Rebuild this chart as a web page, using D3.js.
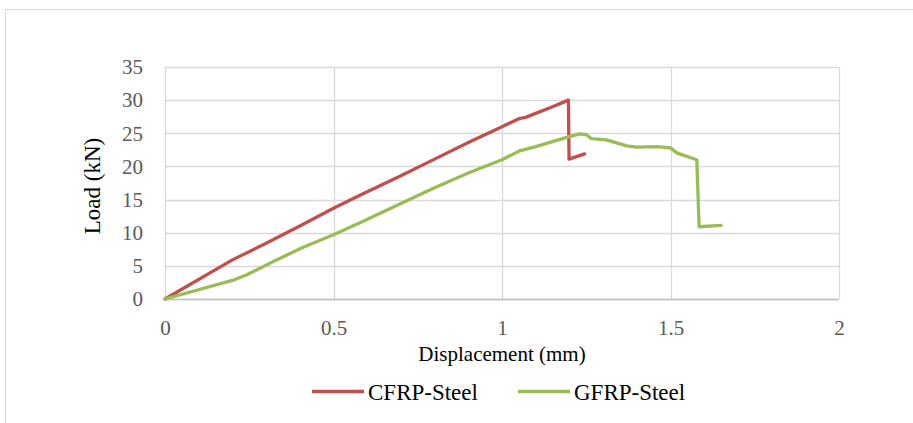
<!DOCTYPE html>
<html>
<head>
<meta charset="UTF-8">
<title>Load vs Displacement</title>
<style>
  body { margin: 0; background: #fff; }
  text { font-family: "Liberation Serif", "Times New Roman", serif; }
</style>
</head>
<body>
<script src="https://d3js.org/d3.v7.min.js"></script>
<svg></svg>
<script>
// displacement (mm) / load (kN)
let cfrpX = [0, 0.2, 0.3, 0.4, 0.5, 0.58, 0.7, 0.8, 0.9, 1.0, 1.05, 1.07, 1.1, 1.15, 1.197, 1.199, 1.245];
let cfrpY = [0, 5.9, 8.4, 11.0, 13.7, 15.7, 18.6, 21.1, 23.6, 26.0, 27.2, 27.4, 28.0, 29.0, 30.0, 21.1, 21.9];

let gfrpX = [0, 0.2, 0.243, 0.282, 0.331, 0.41, 0.5, 0.58, 0.7, 0.8, 0.9, 1.0, 1.05, 1.1, 1.2, 1.23, 1.25, 1.265, 1.31, 1.37, 1.4, 1.46, 1.5, 1.52, 1.578, 1.585, 1.65];
let gfrpY = [0, 2.8, 3.65, 4.65, 5.9, 7.8, 9.7, 11.55, 14.4, 16.8, 19.0, 21.0, 22.3, 23.0, 24.5, 24.9, 24.8, 24.2, 24.0, 23.1, 22.9, 23.0, 22.8, 22.0, 21.0, 10.9, 11.1];

let xTicks = [0, 0.5, 1, 1.5, 2];
let yTicks = [0, 5, 10, 15, 20, 25, 30, 35];

let seriesNames = ["CFRP-Steel", "GFRP-Steel"];
let seriesColors = ["#c0504d", "#9bbb59"];

let series = [
    {name: seriesNames[0], color: seriesColors[0], pts: cfrpX.map((x, i) => [x, cfrpY[i]])},
    {name: seriesNames[1], color: seriesColors[1], pts: gfrpX.map((x, i) => [x, gfrpY[i]])}
];

let W = 913, H = 423;
let margin = {top: 67, left: 165},
    width = 839 - margin.left,
    height = 299 - margin.top;

let svg = d3.select("svg").attr("width", W).attr("height", H);

// outer chart frame
svg.append("rect")
    .attr("x", 5.5).attr("y", 9.5)
    .attr("width", 940).attr("height", 440)
    .attr("fill", "none")
    .attr("stroke", "#d9d9d9")
    .attr("stroke-width", 1);

let chart = svg.append("g")
    .attr("transform", "translate(" + margin.left + "," + margin.top + ")");

let xScale = d3.scaleLinear().domain([0, 2]).range([0, width]);
let yScale = d3.scaleLinear().domain([0, 35]).range([height, 0]);

// gridlines
chart.selectAll(".hgrid")
    .data(yTicks)
    .enter()
    .append("line")
    .attr("x1", 0).attr("x2", width)
    .attr("y1", d => Math.round(yScale(d)) + 0.5)
    .attr("y2", d => Math.round(yScale(d)) + 0.5)
    .attr("stroke", "#d9d9d9")
    .attr("stroke-width", 1.3);

chart.selectAll(".vgrid")
    .data(xTicks)
    .enter()
    .append("line")
    .attr("y1", 0).attr("y2", height)
    .attr("x1", d => Math.round(xScale(d)) + 0.5)
    .attr("x2", d => Math.round(xScale(d)) + 0.5)
    .attr("stroke", "#d9d9d9")
    .attr("stroke-width", 1.3);

// bottom axis line
chart.append("line")
    .attr("x1", 0).attr("x2", width)
    .attr("y1", height + 0.5).attr("y2", height + 0.5)
    .attr("stroke", "#bfbfbf")
    .attr("stroke-width", 1.5);

// tick labels via d3 axes, domain + ticks hidden
let xAxis = chart.append("g")
    .attr("transform", "translate(0," + height + ")")
    .call(d3.axisBottom(xScale).tickValues(xTicks).tickFormat(d3.format("")).tickSize(0).tickPadding(21));
let yAxis = chart.append("g")
    .call(d3.axisLeft(yScale).tickValues(yTicks).tickSize(0).tickPadding(22));

[xAxis, yAxis].forEach(a => {
    a.select(".domain").remove();
    a.selectAll("text")
        .attr("font-family", "Liberation Serif, Times New Roman, serif")
        .attr("font-size", 21)
        .attr("fill", "#595959");
});

// series lines
let line = d3.line()
    .x(d => xScale(d[0]))
    .y(d => yScale(d[1]));

chart.selectAll(".series")
    .data(series)
    .enter()
    .append("path")
    .attr("d", d => line(d.pts))
    .attr("fill", "none")
    .attr("stroke", d => d.color)
    .attr("stroke-width", 3.3)
    .attr("stroke-linejoin", "round")
    .attr("stroke-linecap", "round");

// axis titles
chart.append("text")
    .attr("x", width / 2)
    .attr("y", height + 62)
    .attr("text-anchor", "middle")
    .attr("font-size", 21)
    .attr("fill", "#000")
    .text("Displacement (mm)");

chart.append("text")
    .attr("transform", "translate(-65," + (height / 2 + 3) + ") rotate(-90)")
    .attr("text-anchor", "middle")
    .attr("font-size", 23)
    .attr("fill", "#000")
    .text("Load (kN)");

// legend
let legendX = [312, 518];
let legend = svg.selectAll(".legend")
    .data(series)
    .enter()
    .append("g")
    .attr("transform", (d, i) => "translate(" + legendX[i] + ",391.5)");

legend.append("line")
    .attr("x1", 0).attr("x2", 52)
    .attr("y1", 0).attr("y2", 0)
    .attr("stroke", d => d.color)
    .attr("stroke-width", 3.3);

legend.append("text")
    .attr("x", 56)
    .attr("y", 8)
    .attr("font-size", 23)
    .attr("fill", "#000")
    .text(d => d.name);
</script>
</body>
</html>
